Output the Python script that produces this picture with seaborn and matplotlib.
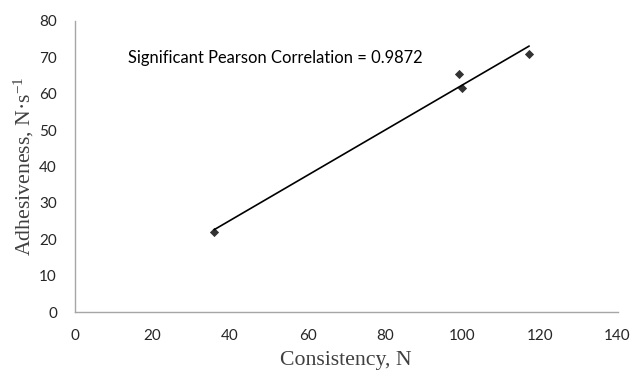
import numpy as np
import pandas as pd
import matplotlib
matplotlib.use("Agg")
import matplotlib.pyplot as plt
import seaborn as sns

consistency = [35.9, 99.0, 99.9, 117.2]
adhesiveness = [22.0, 65.3, 61.6, 71.0]
x_ticks = [0, 20, 40, 60, 80, 100, 120, 140]
y_ticks = [0, 10, 20, 30, 40, 50, 60, 70, 80]
annotation = "Significant Pearson Correlation = 0.9872"

sns.set_theme(style="white")
plt.rcParams['font.family'] = ['Lato', 'DejaVu Sans']
plt.rcParams['mathtext.default'] = 'regular'

df = pd.DataFrame({"Consistency": consistency, "Adhesiveness": adhesiveness})

fig = plt.figure(figsize=(6.33, 3.72), dpi=100)
ax = fig.add_axes([75/633, 60/372, (617.5-75)/633, (312-21)/372])

sns.regplot(data=df, x="Consistency", y="Adhesiveness", ax=ax, ci=None, truncate=True,
            marker='D',
            scatter_kws=dict(s=22, color='black', linewidths=0),
            line_kws=dict(color='black', lw=1.2))

ax.set_xlim(0, 140)
ax.set_ylim(0, 80)
ax.set_xticks(x_ticks)
ax.set_yticks(y_ticks)
ax.tick_params(axis='both', length=0, labelsize=11, colors='#262626')
ax.tick_params(axis='x', pad=12)
ax.tick_params(axis='y', pad=13)

for s in ['top', 'right']:
    ax.spines[s].set_visible(False)
for s in ['left', 'bottom']:
    ax.spines[s].set_color('#a6a6a6')
    ax.spines[s].set_linewidth(1.0)

ax.set_xlabel("Consistency, N", family='Liberation Serif', fontsize=15.7, color='#404040')
ax.set_ylabel("Adhesiveness, N·s$^{-1}$", family='Liberation Serif', fontsize=15.7, color='#404040')
ax.xaxis.label.set_va('center')
ax.yaxis.label.set_va('center')
ax.xaxis.set_label_coords(0.5, -0.168)
ax.yaxis.set_label_coords(-0.094, 0.5)

ax.text(13.7, 69.9, annotation, fontsize=11.9, va='center', ha='left', color='black')

fig.savefig("out.png", dpi=100)
